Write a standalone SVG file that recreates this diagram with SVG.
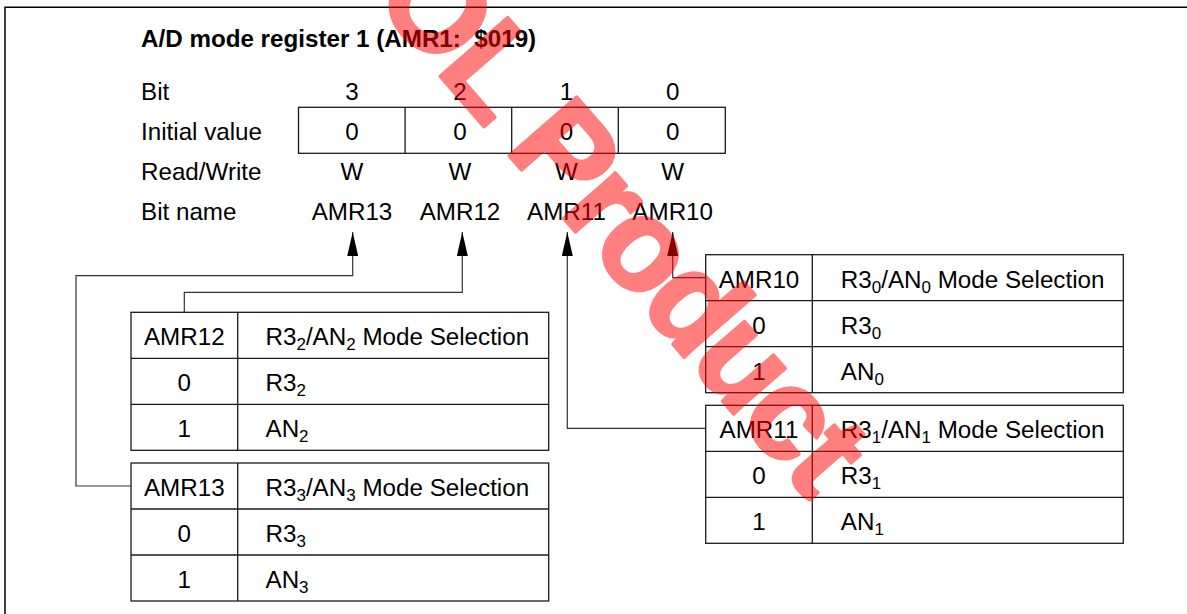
<svg xmlns="http://www.w3.org/2000/svg" width="1187" height="614" viewBox="0 0 1187 614">
<style>
text{font-family:"Liberation Sans",Arial,sans-serif;font-size:24.2px;fill:#000}
.t{font-weight:bold;font-size:24.2px}
.c{text-anchor:middle}
.sub{font-size:17px}
.box{fill:#fff;stroke:#1a1a1a;stroke-width:1.3}
.ln{fill:none;stroke:#1a1a1a;stroke-width:1.3}
.con{fill:none;stroke:#333;stroke-width:1.2}
.wm{font-family:"Liberation Sans",Arial,sans-serif;font-weight:bold;font-size:130px;letter-spacing:-4px;fill:#ff0000;stroke:#ff0000;stroke-width:3.5;stroke-linejoin:round}
</style>
<defs>
<marker id="ah" markerUnits="userSpaceOnUse" markerWidth="24" markerHeight="11" viewBox="0 0 24 11" refX="24" refY="5.5" orient="auto">
<path d="M0,0 L24,5.5 L0,11 z" fill="#000"/>
</marker>
</defs>
<rect width="1187" height="614" fill="#fff"/>
<path d="M5,614 V7.3 H1187" fill="none" stroke="#000" stroke-width="1.5"/>

<g id="header">
<text class="t" x="141" y="47">A/D mode register 1 (AMR1:&#160; $019)</text>
<text x="141" y="99.5">Bit</text>
<text x="141" y="139.5">Initial value</text>
<text x="141" y="179.5">Read/Write</text>
<text x="141" y="220">Bit name</text>
</g>

<g id="register">
<rect class="box" x="298.5" y="107.3" width="426.8" height="46"/>
<path class="ln" d="M405.1,107.3 V153.3 M511.7,107.3 V153.3 M618.3,107.3 V153.3"/>
<text class="c" x="352" y="99.5">3</text>
<text class="c" x="460" y="99.5">2</text>
<text class="c" x="566.5" y="99.5">1</text>
<text class="c" x="672.7" y="99.5">0</text>
<text class="c" x="352" y="139.5">0</text>
<text class="c" x="460" y="139.5">0</text>
<text class="c" x="566.5" y="139.5">0</text>
<text class="c" x="672.7" y="139.5">0</text>
<text class="c" x="352" y="179.5">W</text>
<text class="c" x="460" y="179.5">W</text>
<text class="c" x="566.5" y="179.5">W</text>
<text class="c" x="672.7" y="179.5">W</text>
<text class="c" x="352" y="220">AMR13</text>
<text class="c" x="460" y="220">AMR12</text>
<text class="c" x="566.5" y="220">AMR11</text>
<text class="c" x="672.7" y="220">AMR10</text>
</g>

<g id="connectors">
<path class="con" d="M131,486 H76 V275.7 H352.7 V232" marker-end="url(#ah)"/>
<path class="con" d="M184.3,312.3 V292.3 H462.3 V232" marker-end="url(#ah)"/>
<path class="con" d="M705.7,428.3 H567.3 V232" marker-end="url(#ah)"/>
<path class="con" d="M705.7,277.7 H672.7 V232" marker-end="url(#ah)"/>
</g>

<g id="amr12">
<rect class="box" x="131" y="312.3" width="417.7" height="138"/>
<path class="ln" d="M131,358.3 H548.7 M131,404.3 H548.7 M237.7,312.3 V450.3"/>
<text class="c" x="184.3" y="345.3">AMR12</text>
<text x="265.5" y="345.3">R3<tspan class="sub" dy="5">2</tspan><tspan dy="-5">/AN</tspan><tspan class="sub" dy="5">2</tspan><tspan dy="-5"> Mode Selection</tspan></text>
<text class="c" x="184.3" y="391.3">0</text>
<text x="265.5" y="391.3">R3<tspan class="sub" dy="5">2</tspan></text>
<text class="c" x="184.3" y="437.3">1</text>
<text x="265.5" y="437.3">AN<tspan class="sub" dy="5">2</tspan></text>
</g>

<g id="amr13">
<rect class="box" x="131" y="463" width="417.7" height="138"/>
<path class="ln" d="M131,509 H548.7 M131,555 H548.7 M237.7,463 V601"/>
<text class="c" x="184.3" y="496">AMR13</text>
<text x="265.5" y="496">R3<tspan class="sub" dy="5">3</tspan><tspan dy="-5">/AN</tspan><tspan class="sub" dy="5">3</tspan><tspan dy="-5"> Mode Selection</tspan></text>
<text class="c" x="184.3" y="542">0</text>
<text x="265.5" y="542">R3<tspan class="sub" dy="5">3</tspan></text>
<text class="c" x="184.3" y="588">1</text>
<text x="265.5" y="588">AN<tspan class="sub" dy="5">3</tspan></text>
</g>

<g id="amr10">
<rect class="box" x="705.7" y="254.7" width="417.6" height="138"/>
<path class="ln" d="M705.7,300.7 H1123.3 M705.7,346.7 H1123.3 M812.3,254.7 V392.7"/>
<text class="c" x="759" y="287.7">AMR10</text>
<text x="840.8" y="287.7">R3<tspan class="sub" dy="5">0</tspan><tspan dy="-5">/AN</tspan><tspan class="sub" dy="5">0</tspan><tspan dy="-5"> Mode Selection</tspan></text>
<text class="c" x="759" y="333.7">0</text>
<text x="840.8" y="333.7">R3<tspan class="sub" dy="5">0</tspan></text>
<text class="c" x="759" y="379.7">1</text>
<text x="840.8" y="379.7">AN<tspan class="sub" dy="5">0</tspan></text>
</g>

<g id="amr11">
<rect class="box" x="705.7" y="405.3" width="417.6" height="138"/>
<path class="ln" d="M705.7,451.3 H1123.3 M705.7,497.3 H1123.3 M812.3,405.3 V543.3"/>
<text class="c" x="759" y="438.3">AMR11</text>
<text x="840.8" y="438.3">R3<tspan class="sub" dy="5">1</tspan><tspan dy="-5">/AN</tspan><tspan class="sub" dy="5">1</tspan><tspan dy="-5"> Mode Selection</tspan></text>
<text class="c" x="759" y="484.3">0</text>
<text x="840.8" y="484.3">R3<tspan class="sub" dy="5">1</tspan></text>
<text class="c" x="759" y="530.3">1</text>
<text x="840.8" y="530.3">AN<tspan class="sub" dy="5">1</tspan></text>
</g>

<g id="watermark" opacity="0.5">
<text class="wm" transform="translate(370.7,-3.5) rotate(49)" x="0" y="0">OL Product</text>
</g>
</svg>
